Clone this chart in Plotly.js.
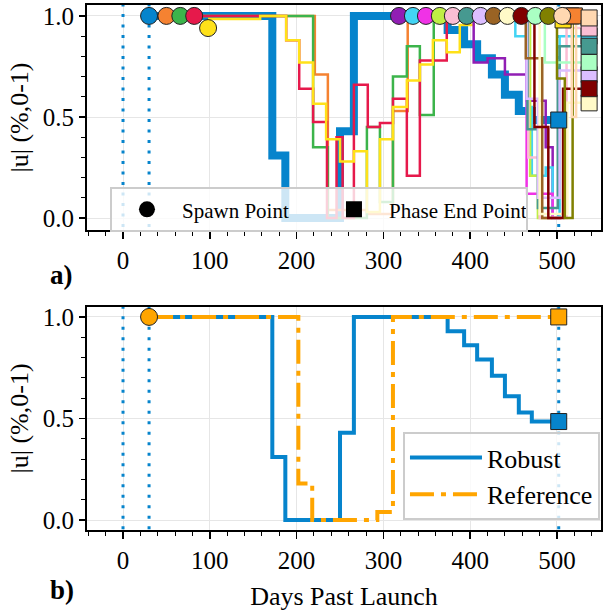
<!DOCTYPE html>
<html>
<head>
<meta charset="utf-8">
<script src="https://cdn.plot.ly/plotly-3.0.1.min.js"></script>
<style>
  html, body { margin: 0; padding: 0; background: #fff; }
  #chart { width: 605px; height: 613px; }
</style>
</head>
<body>
<div id="chart"></div>
<script>
// ---- Event markers (days past launch) ----
const eventDays = [0, 30, 502];

// ---- Panel b: robust vs reference control magnitude ----
const robustDays = [30, 172, 187, 250, 266, 374, 393, 408, 425, 440, 456, 471, 502];
const robustU    = [1.0, 0.31, 0.0, 0.43, 1.0, 0.93, 0.86, 0.79, 0.71, 0.61, 0.53, 0.485, 0.485];
const refDays    = [30, 202, 218, 293, 311, 502];
const refU       = [1.0, 0.18, 0.0, 0.04, 1.0, 1.0];

// ---- Panel a: spawned trajectories ----
const orangeDays = [50, 221, 236, 281, 311, 328, 520];
const orangeU    = [1.0, 0.71, 0.04, 0.02, 0.53, 1.0, 1.0];
const greenDays  = [66, 219, 236, 281, 296, 311, 327, 342, 358, 512];
const greenU     = [1.0, 0.35, 0.0, 0.45, 0.08, 0.70, 0.85, 0.51, 1.0, 1.0];
const redDays    = [82, 188, 203, 219, 235, 246, 253, 266, 282, 296, 311, 327, 342, 373, 516];
const redU       = [1.0, 0.88, 0.64, 0.475, 0.0, 0.40, 0.0, 0.66, 0.45, 0.47, 0.59, 0.21, 0.78, 1.0, 1.0];
const yellowDays = [98, 158, 188, 203, 219, 234, 250, 266, 281, 296, 311, 327, 342, 357, 373, 388, 404, 507];
const yellowU    = [0.985, 1.0, 0.88, 0.77, 0.565, 0.39, 0.28, 0.33, 0.03, 0.39, 0.55, 0.68, 0.76, 0.88, 0.82, 0.955, 0.98, 0.98];
const purpleDays = [318, 404, 420, 440, 465, 487, 495, 505];
const purpleU    = [1.0, 0.77, 0.79, 0.71, 0.58, 0.35, 0.0, 0.0];
const cyanDays   = [334, 452, 465, 471, 487, 495, 503, 537];
const cyanU      = [1.0, 0.90, 0.55, 0.21, 0.25, 0.0, 0.90, 0.90];
const magentaDays = [349, 465, 487, 495, 505];
const magentaU    = [1.0, 0.12, 0.12, 0.0, 0.0];
const limeDays   = [365, 469, 478, 505];
const limeU      = [1.0, 0.21, 0.0, 0.0];
const pinkDays   = [380, 467, 480, 511, 537];
const pinkU      = [1.0, 0.30, 0.0, 0.94, 0.94];
const tealDays   = [396, 466, 478, 501, 503, 537];
const tealU      = [1.0, 0.44, 0.05, 0.68, 0.85, 0.85];
const lavenderDays = [412, 465, 478, 503, 537];
const lavenderU    = [1.0, 0.59, 0.10, 0.73, 0.71];
const brownDays  = [427, 464, 483, 494];
const brownU     = [1.0, 0.79, 0.0, 0.0];
const beigeDays  = [443, 480, 512, 537];
const beigeU     = [1.0, 0.02, 0.57, 0.57];
const maroonDays = [459, 474, 490, 507, 537];
const maroonU    = [1.0, 0.45, 0.0, 0.64, 0.64];
const mintDays   = [475, 486, 537];
const mintU      = [1.0, 0.77, 0.77];
const oliveDays  = [490, 500, 509, 518, 521];
const oliveU     = [1.0, 0.69, 0.0, 0.97, 0.97];
const apricotDays = [506, 517, 522, 537];
const apricotU    = [1.0, 0.50, 1.0, 0.99];

// spawn markers (panel a)
const spawnDays = [30, 50, 66, 82, 98, 318, 334, 349, 365, 380, 396, 412, 427, 443, 459, 475, 490, 506];
const spawnU    = [1.0, 1.0, 1.0, 1.0, 0.94, 1.0, 1.0, 1.0, 1.0, 1.0, 1.0, 1.0, 1.0, 1.0, 1.0, 1.0, 1.0, 1.0];

// ---- styles ----
const BLUE = '#0684cc';
const ORANGE = '#ffa500';
const FONT = '"Times New Roman", "Liberation Serif", serif';

const thin = [
  {d: orangeDays, u: orangeU, c: '#f58231'},
  {d: greenDays, u: greenU, c: '#3cb44b'},
  {d: redDays, u: redU, c: '#e6194b'},
  {d: yellowDays, u: yellowU, c: '#ffe119'},
  {d: purpleDays, u: purpleU, c: '#911eb4'},
  {d: cyanDays, u: cyanU, c: '#42d4f4'},
  {d: magentaDays, u: magentaU, c: '#f032e6'},
  {d: limeDays, u: limeU, c: '#bfef45'},
  {d: pinkDays, u: pinkU, c: '#fabed4'},
  {d: tealDays, u: tealU, c: '#469990'},
  {d: lavenderDays, u: lavenderU, c: '#dcbeff'},
  {d: brownDays, u: brownU, c: '#9a6324'},
  {d: beigeDays, u: beigeU, c: '#fffac8'},
  {d: maroonDays, u: maroonU, c: '#800000'},
  {d: mintDays, u: mintU, c: '#aaffc3'},
  {d: oliveDays, u: oliveU, c: '#808000'},
  {d: apricotDays, u: apricotU, c: '#ffd8b1'}
];
const spawnColors = [BLUE].concat(thin.map(t => t.c));
const last = a => a[a.length - 1];

const traces = [];

// dotted event lines in both panels
[['x', 'y'], ['x2', 'y2']].forEach(([xa, ya]) => {
  eventDays.forEach(d => {
    traces.push({x: [d, d], y: [-0.2, 1.2], xaxis: xa, yaxis: ya, mode: 'lines',
      line: {color: BLUE, width: 3, dash: '3px,7.5px'}, showlegend: false, hoverinfo: 'skip'});
  });
});

// panel a: robust (thick) then spawned trajectories
traces.push({x: robustDays, y: robustU, xaxis: 'x', yaxis: 'y', mode: 'lines',
  line: {color: BLUE, width: 8, shape: 'hv'}, showlegend: false});
thin.forEach(t => traces.push({x: t.d, y: t.u, xaxis: 'x', yaxis: 'y', mode: 'lines',
  line: {color: t.c, width: 2.5, shape: 'hv'}, showlegend: false}));

// panel a: phase end points (squares)
const endSet = [
  {d: robustDays, u: robustU, c: BLUE},
  {d: yellowDays, u: yellowU, c: '#ffe119'},
  {d: redDays, u: redU, c: '#e6194b'},
  {d: orangeDays, u: orangeU, c: '#f58231'},
  {d: beigeDays, u: beigeU, c: '#fffac8'},
  {d: lavenderDays, u: lavenderU, c: '#dcbeff'},
  {d: maroonDays, u: maroonU, c: '#800000'},
  {d: cyanDays, u: cyanU, c: '#42d4f4'},
  {d: mintDays, u: mintU, c: '#aaffc3'},
  {d: tealDays, u: tealU, c: '#469990'},
  {d: pinkDays, u: pinkU, c: '#fabed4'},
  {d: apricotDays, u: apricotU, c: '#ffd8b1'}
];
traces.push({x: endSet.map(e => last(e.d)), y: endSet.map(e => last(e.u)), xaxis: 'x', yaxis: 'y',
  mode: 'markers', cliponaxis: false,
  marker: {symbol: 'square', size: 16, color: endSet.map(e => e.c), line: {color: '#222', width: 1}},
  showlegend: false});

// panel a: spawn points (circles)
traces.push({x: spawnDays, y: spawnU, xaxis: 'x', yaxis: 'y', mode: 'markers', cliponaxis: false,
  marker: {symbol: 'circle', size: 17, color: spawnColors, line: {color: '#222', width: 1}},
  showlegend: false});

// panel a legend entries
traces.push({x: [null], y: [null], xaxis: 'x', yaxis: 'y', mode: 'markers', name: 'Spawn Point',
  marker: {symbol: 'circle', size: 16, color: 'black'}, legend: 'legend'});
traces.push({x: [null], y: [null], xaxis: 'x', yaxis: 'y', mode: 'markers', name: 'Phase End Point',
  marker: {symbol: 'square', size: 16, color: 'black'}, legend: 'legend'});

// panel b
traces.push({x: robustDays, y: robustU, xaxis: 'x2', yaxis: 'y2', mode: 'lines', name: 'Robust',
  line: {color: BLUE, width: 4, shape: 'hv'}, legend: 'legend2'});
traces.push({x: refDays, y: refU, xaxis: 'x2', yaxis: 'y2', mode: 'lines', name: 'Reference',
  line: {color: ORANGE, width: 4, shape: 'hv', dash: '24px,7px,5px,7px'}, legend: 'legend2'});
traces.push({x: [refDays[0]], y: [refU[0]], xaxis: 'x2', yaxis: 'y2', mode: 'markers', cliponaxis: false,
  marker: {symbol: 'circle', size: 17, color: ORANGE, line: {color: '#222', width: 1}}, showlegend: false});
traces.push({x: [last(refDays), last(robustDays)], y: [last(refU), last(robustU)], xaxis: 'x2', yaxis: 'y2',
  mode: 'markers', cliponaxis: false,
  marker: {symbol: 'square', size: 16, color: [ORANGE, BLUE], line: {color: '#222', width: 1}}, showlegend: false});

const tickFont = {family: FONT, size: 25, color: 'black'};
function xAxis(anchor) {
  return {
    anchor: anchor, range: [-41.5, 550.7], tick0: 0, dtick: 100,
    ticks: 'outside', ticklen: 7, tickwidth: 1.5, tickcolor: 'black',
    minor: {dtick: 20, ticks: 'outside', ticklen: 4, tickwidth: 1, tickcolor: 'black', showgrid: false},
    showline: true, mirror: true, linecolor: 'black', linewidth: 2,
    showgrid: true, gridcolor: '#e6e6e6', gridwidth: 1, zeroline: false,
    tickfont: tickFont
  };
}
function yAxis(anchor, domain, range) {
  return {
    anchor: anchor, domain: domain, range: range, tick0: 0, dtick: 0.5, tickformat: '.1f',
    ticks: 'outside', ticklen: 6, tickwidth: 1.5, tickcolor: 'black',
    minor: {dtick: 0.1, ticks: 'outside', ticklen: 4, tickwidth: 1, tickcolor: 'black', showgrid: false},
    showline: true, mirror: true, linecolor: 'black', linewidth: 2,
    showgrid: true, gridcolor: '#e6e6e6', gridwidth: 1, zeroline: false,
    tickfont: tickFont,
    title: {text: '|u| (%,0-1)', font: {family: FONT, size: 26, color: 'black'}, standoff: 7}
  };
}

const layout = {
  width: 605, height: 613,
  margin: {l: 87, r: 4, t: 5, b: 83},
  paper_bgcolor: 'white', plot_bgcolor: 'white',
  font: {family: FONT, color: 'black'},
  showlegend: true,
  xaxis: xAxis('y'),
  yaxis: yAxis('x', [0.5714, 1], [-0.059, 1.054]),
  xaxis2: Object.assign(xAxis('y2'), {title: {text: 'Days Past Launch', font: {family: FONT, size: 26, color: 'black'}, standoff: 14}}),
  yaxis2: yAxis('x2', [0, 0.4248], [-0.049, 1.049]),
  legend: {
    x: 0.0447, y: 0.653, xanchor: 'left', yanchor: 'top', orientation: 'h',
    bgcolor: 'rgba(255,255,255,0.8)', bordercolor: '#cccccc', borderwidth: 2,
    font: {family: FONT, size: 21, color: 'black'}, itemwidth: 60, entrywidth: 132
  },
  legend2: {
    x: 0.998, y: 0.1867, xanchor: 'right', yanchor: 'top',
    bgcolor: 'rgba(255,255,255,0.8)', bordercolor: '#cccccc', borderwidth: 2,
    font: {family: FONT, size: 26, color: 'black'}, itemwidth: 72, traceorder: 'normal'
  },
  annotations: [
    {text: '<b>a)</b>', xref: 'paper', yref: 'paper', x: -0.076, y: 0.486, showarrow: false,
     font: {family: FONT, size: 27, color: 'black'}},
    {text: '<b>b)</b>', xref: 'paper', yref: 'paper', x: -0.076, y: -0.147, showarrow: false,
     font: {family: FONT, size: 27, color: 'black'}}
  ]
};

Plotly.newPlot('chart', traces, layout, {staticPlot: true, displayModeBar: false});
</script>
</body>
</html>
